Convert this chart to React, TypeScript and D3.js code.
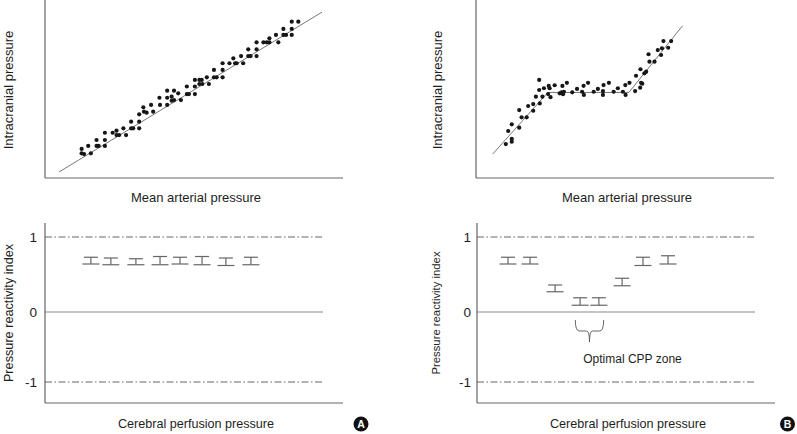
import React from 'react';
import * as d3 from 'd3';

// ---------- Data ----------
// Panel A (top): MAP vs ICP, linear relationship (arbitrary units 0-100)
const mapA = [12.3,12.3,13.1,14.5,15.4,17.3,17.3,18.0,20.1,20.1,20.1,22.7,24.0,24.0,24.9,26.3,27.2,28.9,28.9,29.6,31.6,31.6,31.6,33.0,33.2,34.1,35.6,36.3,38.4,38.6,41.0,41.0,41.0,42.5,42.5,43.3,43.3,44.7,45.6,47.6,47.6,48.3,50.3,50.3,50.3,51.8,51.8,52.6,52.8,54.3,55.0,56.7,56.7,57.6,59.6,59.6,59.6,61.9,63.2,63.8,64.3,65.8,66.5,68.2,68.2,69.0,71.0,71.0,71.0,73.3,74.4,75.3,75.3,77.5,78.3,80.0,80.0,80.9,82.8,82.8,82.8,85.0];
const icpA = [16.5,14.0,13.6,18.2,14.0,21.6,18.2,18.2,25.7,21.6,18.2,25.7,26.9,24.4,24.4,28.2,24.4,32.0,28.2,28.2,28.2,32.0,36.2,40.2,37.7,37.1,41.5,37.7,45.6,41.5,49.6,45.6,41.5,46.2,43.9,49.6,44.3,48.1,44.3,52.0,47.7,47.7,55.7,52.0,47.7,55.7,53.4,55.7,53.4,57.2,53.4,61.4,57.2,57.2,65.2,61.4,57.2,65.2,68.0,65.2,65.2,69.3,65.2,73.1,69.3,69.3,77.1,73.1,69.3,77.1,77.1,79.4,77.1,81.3,77.1,84.7,81.3,81.3,88.8,84.7,81.3,88.8];
const fitAx = [4.7, 93.0];
const fitAy = [3.4, 94.3];

// Panel B (top): MAP vs ICP, autoregulation plateau
const mapB = [10.0,12.0,12.0,10.8,12.0,14.5,14.5,15.3,17.0,17.5,19.2,19.2,20.1,21.2,21.2,21.4,22.3,22.8,24.4,24.7,25.0,24.2,26.4,28.1,28.7,29.0,29.2,29.5,30.5,32.3,33.9,35.6,36.1,36.2,37.6,39.5,40.9,42.6,42.8,42.6,44.6,46.2,47.6,49.3,50.1,50.2,51.5,53.4,53.7,55.1,55.4,55.8,55.2,56.5,57.1,57.9,58.2,59.9,61.0,62.1,62.4,62.9,64.5,65.5];
const icpB = [19.3,20.6,22.2,26.7,30.5,28.6,38.6,34.5,34.5,40.9,38.2,42.0,46.2,55.7,50.0,42.4,46.2,51.0,52.3,51.0,45.9,47.7,52.7,48.1,48.7,52.3,47.6,49.0,54.1,48.7,50.6,49.0,52.4,47.2,54.1,49.0,50.6,49.4,52.8,47.2,54.1,49.0,51.0,49.0,52.8,47.2,54.1,49.4,58.1,51.3,54.1,53.6,61.8,59.5,60.4,70.3,66.1,66.1,72.7,69.9,73.7,77.8,74.0,77.8];
const fitBx = [5.6, 24.1, 51.3, 69.3];
const fitBy = [13.6, 48.6, 48.6, 86.5];

// Bottom panels: PRx vs CPP (mean ranges)
const cppA = [15.4, 22.1, 30.5, 38.6, 45.3, 52.7, 60.7, 69.1];
const prxAlo = [0.64, 0.63, 0.63, 0.63, 0.64, 0.63, 0.62, 0.63];
const prxAhi = [0.73, 0.72, 0.71, 0.74, 0.73, 0.74, 0.72, 0.73];
const cppB = [10.4, 17.8, 26.2, 34.6, 40.9, 48.7, 55.7, 64.1];
const prxBlo = [0.64, 0.64, 0.27, 0.09, 0.09, 0.35, 0.62, 0.64];
const prxBhi = [0.73, 0.73, 0.36, 0.19, 0.19, 0.45, 0.73, 0.75];
const optimalZone = [33.0, 42.5];
const yTicks = [1, 0, -1];
const yTickLabels = ['1', '0', '-1'];

// ---------- Styles ----------
const FONT = '"Liberation Sans", Arial, sans-serif';
const AXIS = '#666';
const DOT = '#161616';
const TXT = '#1e1e1e';

function Scatter({ x0, xs, ys, fx, fy, xLab, yLab, yLabX }: any) {
  const x = d3.scaleLinear().domain([0, 100]).range([x0, x0 + 298]);
  const y = d3.scaleLinear().domain([0, 100]).range([178, 2]);
  const line = d3.line<number>().x((d) => x(fx[d])).y((d) => y(fy[d]));
  return (
    <g>
      <path d={line(d3.range(fx.length)) || ''} fill="none" stroke="#555" strokeWidth={0.8} />
      {xs.map((v: number, i: number) => (
        <circle key={i} cx={x(v)} cy={y(ys[i])} r={2.1} fill={DOT} />
      ))}
      <line x1={x0} x2={x0} y1={0} y2={178} stroke={AXIS} strokeWidth={1.2} />
      <line x1={x0} x2={x0 + 298} y1={178} y2={178} stroke={AXIS} strokeWidth={1.2} />
      <text x={x0 + 151} y={202} textAnchor="middle" fontFamily={FONT} fontSize={13} fill={TXT}>{xLab}</text>
      <text transform={`translate(${yLabX},90) rotate(-90)`} textAnchor="middle" fontFamily={FONT} fontSize={13} fill={TXT}>{yLab}</text>
    </g>
  );
}

function PRx({ x0, cpp, lo, hi, yLabX, yLabSize, tickRight, children }: any) {
  const x = d3.scaleLinear().domain([0, 100]).range([x0, x0 + 298]);
  const y = d3.scaleLinear().domain([-1.3, -1, 0, 1, 1.19]).range([403, 382, 312, 237, 223]);
  const refEnd = x0 + 278;
  return (
    <g>
      {[1, -1].map((t) => (
        <line key={t} x1={x0} x2={refEnd} y1={y(t)} y2={y(t)} stroke="#555" strokeWidth={0.9} strokeDasharray="7,2.5,1.5,2.5" />
      ))}
      <line x1={x0} x2={refEnd} y1={y(0)} y2={y(0)} stroke="#888" strokeWidth={1} />
      {cpp.map((c: number, i: number) => (
        <g key={i} stroke="#666" strokeWidth={1.2}>
          <line x1={x(c) - 7} x2={x(c) + 7} y1={y(hi[i])} y2={y(hi[i])} />
          <line x1={x(c)} x2={x(c)} y1={y(hi[i])} y2={y(lo[i])} />
          <line x1={x(c) - 8.5} x2={x(c) + 8.5} y1={y(lo[i])} y2={y(lo[i])} />
        </g>
      ))}
      <line x1={x0} x2={x0} y1={223} y2={403} stroke={AXIS} strokeWidth={1.2} />
      <line x1={x0} x2={x0 + 298} y1={403} y2={403} stroke={AXIS} strokeWidth={1.2} />
      {yTicks.map((t, i) => (
        <text key={t} x={tickRight} y={y(t)} dy="0.35em" textAnchor="end" fontFamily={FONT} fontSize={13.5} fill={TXT}>{yTickLabels[i]}</text>
      ))}
      <text x={x0 + 151} y={428} textAnchor="middle" fontFamily={FONT} fontSize={12.6} fill={TXT}>Cerebral perfusion pressure</text>
      <text transform={`translate(${yLabX},313) rotate(-90)`} textAnchor="middle" fontFamily={FONT} fontSize={yLabSize} fill={TXT}>Pressure reactivity index</text>
      {children ? children(x, y) : null}
    </g>
  );
}

function Badge({ cx, label }: any) {
  return (
    <g>
      <circle cx={cx} cy={424} r={7.5} fill="#111" />
      <text x={cx} y={424} dy="0.36em" textAnchor="middle" fontFamily={FONT} fontWeight="bold" fontSize={10.5} fill="#fff">{label}</text>
    </g>
  );
}

export default function App() {
  return (
    <svg width={797} height={434} style={{ position: 'absolute', left: 0, top: 0, background: '#fff' }}>
      <rect width={797} height={434} fill="#fff" />
      <Scatter x0={45} xs={mapA} ys={icpA} fx={fitAx} fy={fitAy} xLab="Mean arterial pressure" yLab="Intracranial pressure" yLabX={12.5} />
      <Scatter x0={476} xs={mapB} ys={icpB} fx={fitBx} fy={fitBy} xLab="Mean arterial pressure" yLab="Intracranial pressure" yLabX={442} />
      <PRx x0={45} cpp={cppA} lo={prxAlo} hi={prxAhi} yLabX={12.5} yLabSize={12.7} tickRight={37} />
      <PRx x0={477} cpp={cppB} lo={prxBlo} hi={prxBhi} yLabX={440} yLabSize={11.3} tickRight={471}>
        {(x: any, y: any) => {
          const a = x(optimalZone[0]);
          const b = x(optimalZone[1]);
          const m = (a + b) / 2;
          const t = 320, mid = 331, tip = 342;
          const d = `M${a},${t} Q${a},${mid} ${a + 4},${mid} L${m - 3},${mid} Q${m},${mid} ${m},${tip} Q${m},${mid} ${m + 3},${mid} L${b - 4},${mid} Q${b},${mid} ${b},${t}`;
          return (
            <g>
              <path d={d} fill="none" stroke="#555" strokeWidth={0.9} />
              <text x={m + 43} y={363} textAnchor="middle" fontFamily={FONT} fontSize={12} fill={TXT}>Optimal CPP zone</text>
            </g>
          );
        }}
      </PRx>
      <Badge cx={361} label="A" />
      <Badge cx={787.5} label="B" />
    </svg>
  );
}
